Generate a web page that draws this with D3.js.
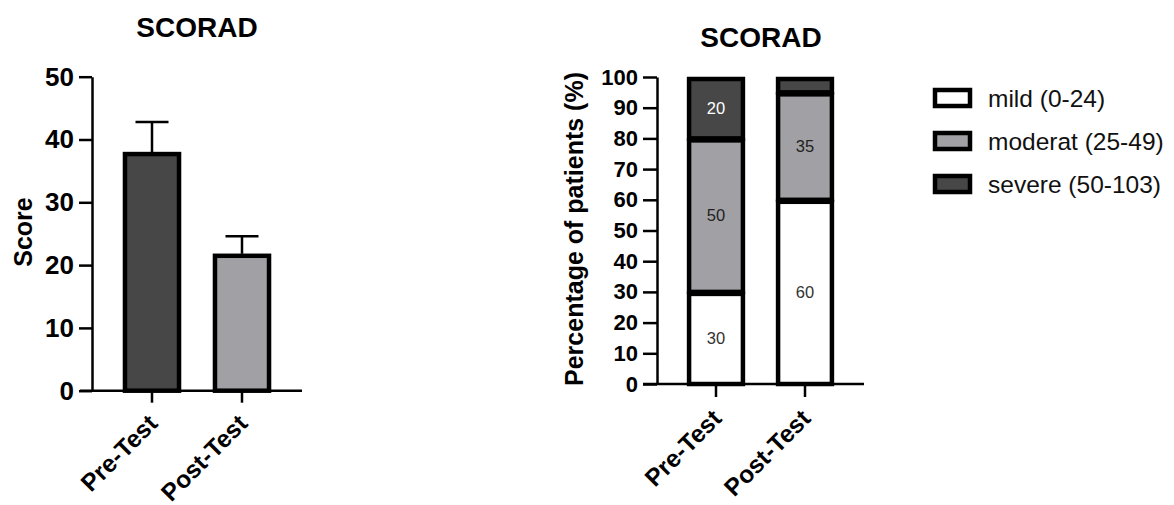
<!DOCTYPE html>
<html>
<head>
<meta charset="utf-8">
<script src="https://cdn.jsdelivr.net/npm/d3@7"></script>
<style>
body { margin: 0; background: #fff; }
svg { display: block; font-family: "Liberation Sans", Arial, sans-serif; }
</style>
</head>
<body>
<svg id="chart" width="1174" height="505"></svg>
<script>
// categories and values
var categories = ["Pre-Test", "Post-Test"];
var scoreMean = [38, 21.8];
var scoreErr = [4.8, 2.8];
var scoreTicks = [0, 10, 20, 30, 40, 50];

var levels = ["mild (0-24)", "moderat (25-49)", "severe (50-103)"];
var mild = [30, 60];
var moderate = [50, 35];
var severe = [20, 5];
var pctTicks = [0, 10, 20, 30, 40, 50, 60, 70, 80, 90, 100];

var dark = "#474747", grey = "#a1a0a5";
var levelColors = ["#ffffff", grey, dark];
var labelColors = ["#333", "#222", "#fff"];

var svg = d3.select("#chart");

//---------- left chart: mean score with error bar
var yL = d3.scaleLinear().domain([0, 50]).range([390.7, 76.7]);
var xL = d3.scaleBand().domain(categories).range([107, 287]).paddingInner(0.355).paddingOuter(0.1775);
var barCol = [dark, grey];

svg.append("text").attr("x", 197).attr("y", 37).attr("text-anchor", "middle")
	.attr("font-size", 28).attr("font-weight", "bold").text("SCORAD");

// error bars first, bars go on top
categories.forEach(function(c, i){
	var cx = xL(c) + xL.bandwidth()/2;
	svg.append("line").attr("x1", cx).attr("x2", cx)
		.attr("y1", yL(scoreMean[i])).attr("y2", yL(scoreMean[i] + scoreErr[i]))
		.attr("stroke", "#000").attr("stroke-width", 2.5);
	svg.append("line").attr("x1", cx - 16.5).attr("x2", cx + 16.5)
		.attr("y1", yL(scoreMean[i] + scoreErr[i])).attr("y2", yL(scoreMean[i] + scoreErr[i]))
		.attr("stroke", "#000").attr("stroke-width", 2.5);
});

svg.selectAll(".barL").data(categories).enter().append("rect")
	.attr("x", function(d){ return xL(d) + 2; })
	.attr("width", xL.bandwidth() - 4)
	.attr("y", function(d, i){ return yL(scoreMean[i]) + 2; })
	.attr("height", function(d, i){ return yL(0) - yL(scoreMean[i]) - 2; })
	.attr("fill", function(d, i){ return barCol[i]; })
	.attr("stroke", "#000").attr("stroke-width", 4.5);

var axL = svg.append("g").attr("transform", "translate(92,0)")
	.call(d3.axisLeft(yL).tickValues(scoreTicks).tickSize(13).tickSizeOuter(0).tickPadding(5));
axL.selectAll("path,line").attr("stroke", "#000").attr("stroke-width", 2.5);
axL.selectAll("text").attr("font-size", 26).attr("font-weight", "bold").attr("fill", "#000")
	.attr("font-family", "Liberation Sans, Arial, sans-serif");

svg.append("line").attr("x1", 80).attr("x2", 302).attr("y1", yL(0)).attr("y2", yL(0))
	.attr("stroke", "#000").attr("stroke-width", 2.5);
categories.forEach(function(c){
	var cx = xL(c) + xL.bandwidth()/2;
	svg.append("line").attr("x1", cx).attr("x2", cx).attr("y1", yL(0)).attr("y2", yL(0) + 12)
		.attr("stroke", "#000").attr("stroke-width", 2.5);
	svg.append("text").attr("transform", "translate(" + (cx + 7) + "," + 425 + ") rotate(-45)")
		.attr("text-anchor", "end").attr("font-size", 24.5).attr("font-weight", "bold").text(c);
});

svg.append("text").attr("transform", "translate(32,232) rotate(-90)").attr("text-anchor", "middle")
	.attr("font-size", 25).attr("font-weight", "bold").text("Score");

//---------- right chart: stacked percentages
var yR = d3.scaleLinear().domain([0, 100]).range([384, 77]);
var xR = d3.scaleBand().domain(categories).range([671.5, 849.5]).paddingInner(0.35).paddingOuter(0.175);

var table = categories.map(function(c, i){
	return { cat: c, mild: mild[i], moderate: moderate[i], severe: severe[i] };
});
var stack = d3.stack().keys(["mild", "moderate", "severe"])(table);

svg.append("text").attr("x", 761).attr("y", 47).attr("text-anchor", "middle")
	.attr("font-size", 28).attr("font-weight", "bold").text("SCORAD");

stack.forEach(function(layer, k){
	svg.selectAll(".seg" + k).data(layer).enter().append("rect")
		.attr("x", function(d){ return xR(d.data.cat) + 2; })
		.attr("width", xR.bandwidth() - 4)
		.attr("y", function(d){ return yR(d[1]) + 2; })
		.attr("height", function(d){ return yR(d[0]) - yR(d[1]) - 2; })
		.attr("fill", levelColors[k])
		.attr("stroke", "#000").attr("stroke-width", 4.5);
});
stack.forEach(function(layer, k){
	svg.selectAll(".lab" + k).data(layer.filter(function(d){ return d[1] - d[0] >= 10; })).enter().append("text")
		.attr("x", function(d){ return xR(d.data.cat) + xR.bandwidth()/2; })
		.attr("y", function(d){ return yR((d[0] + d[1]) / 2) + 6; })
		.attr("text-anchor", "middle").attr("font-size", 16.5)
		.attr("fill", labelColors[k])
		.text(function(d){ return d[1] - d[0]; });
});

var axR = svg.append("g").attr("transform", "translate(657,0)")
	.call(d3.axisLeft(yR).tickValues(pctTicks).tickSize(14).tickSizeOuter(0).tickPadding(5));
axR.selectAll("path,line").attr("stroke", "#000").attr("stroke-width", 2.5);
axR.selectAll("text").attr("font-size", 22).attr("font-weight", "bold").attr("fill", "#000")
	.attr("font-family", "Liberation Sans, Arial, sans-serif");

svg.append("line").attr("x1", 643).attr("x2", 864).attr("y1", yR(0)).attr("y2", yR(0))
	.attr("stroke", "#000").attr("stroke-width", 2.5);
categories.forEach(function(c){
	var cx = xR(c) + xR.bandwidth()/2;
	svg.append("line").attr("x1", cx).attr("x2", cx).attr("y1", yR(0)).attr("y2", yR(0) + 13)
		.attr("stroke", "#000").attr("stroke-width", 2.5);
	svg.append("text").attr("transform", "translate(" + (cx + 7) + "," + 420 + ") rotate(-45)")
		.attr("text-anchor", "end").attr("font-size", 24.5).attr("font-weight", "bold").text(c);
});

svg.append("text").attr("transform", "translate(583,229) rotate(-90)").attr("text-anchor", "middle")
	.attr("font-size", 25).attr("font-weight", "bold").text("Percentage of patients (%)");

// legend
var leg = svg.selectAll(".leg").data(levels).enter().append("g")
	.attr("transform", function(d, i){ return "translate(933," + (98 + i*43) + ")"; });
leg.append("rect").attr("x", 2).attr("y", -8).attr("width", 35).attr("height", 16)
	.attr("fill", function(d, i){ return levelColors[i]; })
	.attr("stroke", "#000").attr("stroke-width", 4.5);
leg.append("text").attr("x", 55).attr("y", 8.5).attr("font-size", 24.5).attr("fill", "#111")
	.text(function(d){ return d; });
</script>
</body>
</html>
